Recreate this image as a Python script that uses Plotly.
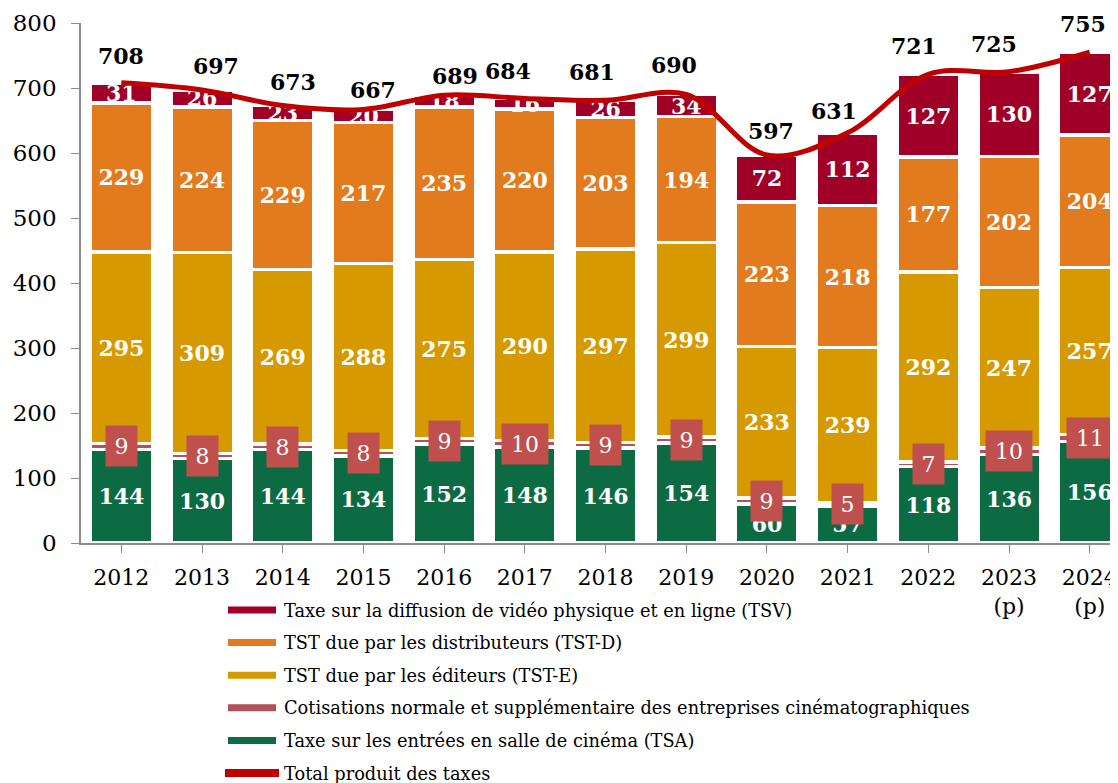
import plotly.graph_objects as go

years = ["2012", "2013", "2014", "2015", "2016", "2017", "2018", "2019",
         "2020", "2021", "2022", "2023<br>(p)", "2024<br>(p)"]
tsa = [144, 130, 144, 134, 152, 148, 146, 154, 60, 57, 118, 136, 156]
cotisations = [9, 8, 8, 8, 9, 10, 9, 9, 9, 5, 7, 10, 11]
tst_e = [295, 309, 269, 288, 275, 290, 297, 299, 233, 239, 292, 247, 257]
tst_d = [229, 224, 229, 217, 235, 220, 203, 194, 223, 218, 177, 202, 204]
tsv = [31, 26, 23, 20, 18, 16, 26, 34, 72, 112, 127, 130, 127]
total = [708, 697, 673, 667, 689, 684, 681, 690, 597, 631, 721, 725, 755]

legend_names = [
    "Taxe sur la diffusion de vidéo physique et en ligne (TSV)",
    "TST due par les distributeurs (TST-D)",
    "TST due par les éditeurs (TST-E)",
    "Cotisations normale et supplémentaire des entreprises cinématographiques",
    "Taxe sur les entrées en salle de cinéma (TSA)",
    "Total produit des taxes",
]

# hand placement of the total labels (pixel nudges, as in the original)
total_dx = [0, 14, 10, 10, 11, -17, -14, -12, 4, -14, -14, -15, -7]
total_dy = [27, 24, 24, 19, 19, 27, 28, 30, 24, 22, 28, 28, 28]

FONT = "DejaVu Serif"
C_TSV = "#a00028"
C_TSTD = "#e27b1d"
C_TSTE = "#d69a00"
C_COT = "#c0504d"
C_TSA = "#0d6b44"
C_TOTAL = "#c00000"

W, H = 1110, 775
ML, MT, MB = 73, 15, 240
PW, PH = W - ML, H - MT - MB

x = list(range(len(years)))
fig = go.Figure()

label_font = dict(family=FONT, size=22, color="white", weight="bold")


def add_bar(values, color, show_text=True):
    fig.add_trace(go.Bar(
        x=x, y=values,
        marker=dict(color=color, line=dict(color="white", width=3.5)),
        text=[str(v) for v in values] if show_text else None,
        textposition="inside" if show_text else "none",
        insidetextanchor="middle",
        constraintext="none",
        textfont=label_font,
        showlegend=False,
        hoverinfo="skip",
    ))


add_bar(tsa, C_TSA)
add_bar(cotisations, "#b75058", show_text=False)
add_bar(tst_e, C_TSTE)
add_bar(tst_d, C_TSTD)
add_bar(tsv, C_TSV)

# smoothed total line
fig.add_trace(go.Scatter(
    x=x, y=total, mode="lines",
    line=dict(color=C_TOTAL, width=5, shape="spline", smoothing=1),
    showlegend=False, hoverinfo="skip",
))

# total labels above the bars
for xi, t, dx, dy in zip(x, total, total_dx, total_dy):
    fig.add_annotation(
        x=xi, y=t, text=str(t), showarrow=False, xshift=dx, yshift=dy,
        font=dict(family=FONT, size=22, color="black", weight="bold"),
    )

# cotisation labels in boxes
for xi, base, c in zip(x, tsa, cotisations):
    fig.add_annotation(
        x=xi, y=base + c / 2, text=str(c), showarrow=False,
        font=dict(family=FONT, size=22, color="white"),
        bgcolor=C_COT, width=31 if c < 10 else 46, height=40, borderpad=0,
    )

# legend drawn by hand: thick line samples + labels
legend_colors = [C_TSV, C_TSTD, C_TSTE, "#b0505a", C_TSA, C_TOTAL]


def px_x(p):
    return (p - ML) / PW


def px_y(p):
    return (MT + PH - p) / PH


for i, (nm, col) in enumerate(zip(legend_names, legend_colors)):
    yy = px_y(602 + 32.6 * i)
    last = i == len(legend_names) - 1
    fig.add_shape(
        type="line", xref="paper", yref="paper",
        x0=px_x(217 if last else 220), x1=px_x(271 if last else 268), y0=yy, y1=yy,
        line=dict(color=col, width=8 if last else 7),
    )
    fig.add_annotation(
        xref="paper", yref="paper", x=px_x(274), y=yy,
        xanchor="left", yanchor="middle", showarrow=False, text=nm,
        font=dict(family=FONT, size=17.8, color="black"),
    )

fig.update_layout(
    width=W, height=H,
    margin=dict(l=ML, r=0, t=MT, b=MB),
    barmode="stack", bargap=0.225,
    plot_bgcolor="white", paper_bgcolor="white",
    font=dict(family=FONT, color="black"),
    showlegend=False,
)
fig.update_xaxes(
    tickmode="array", tickvals=x, ticktext=years,
    range=[-0.5, 12.35],
    showline=True, linecolor="#8c8c8c", linewidth=1.5,
    ticks="outside", tickson="boundaries", ticklen=8, tickcolor="#8c8c8c",
    tickfont=dict(family=FONT, size=22, color="black"),
    ticklabelstandoff=6,
    showgrid=False, zeroline=False,
)
fig.update_yaxes(
    range=[0, 800], dtick=100,
    showline=True, linecolor="#8c8c8c", linewidth=1.5,
    ticks="outside", ticklen=8, tickcolor="#8c8c8c",
    tickfont=dict(family=FONT, size=23, color="black"),
    ticklabelstandoff=10,
    showgrid=False, zeroline=False,
)

fig.write_html("out.html")
